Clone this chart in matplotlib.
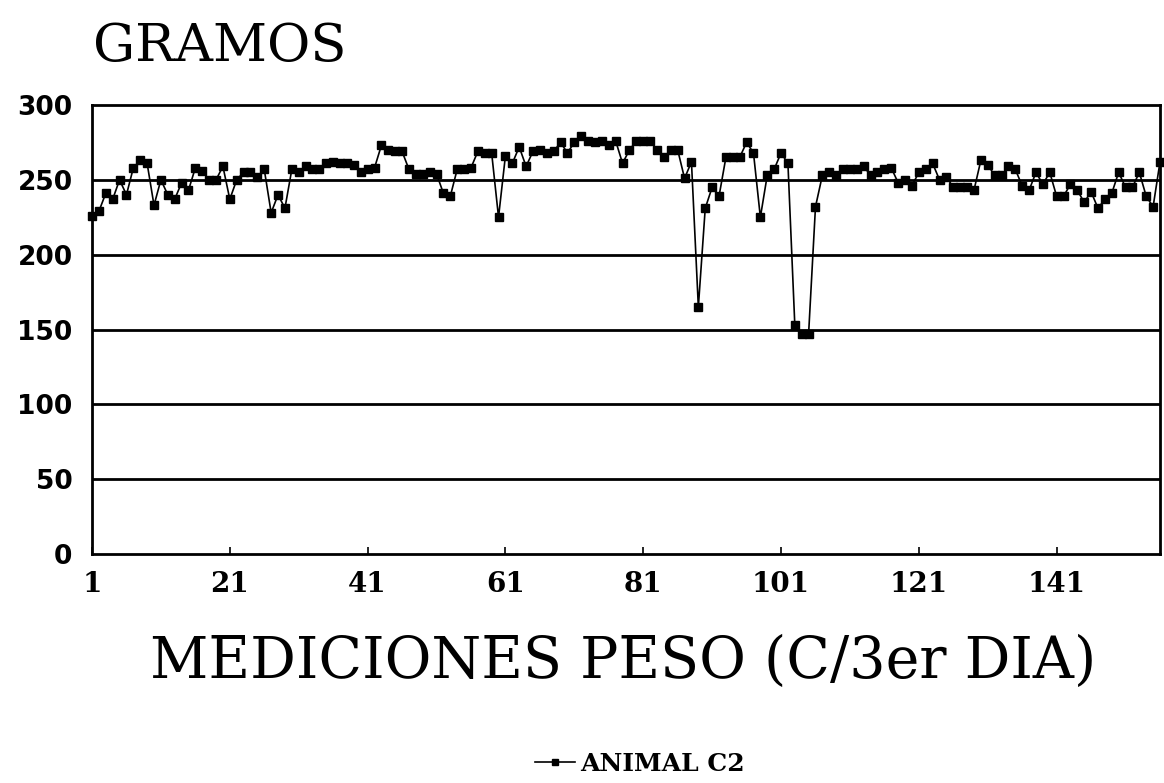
import matplotlib
matplotlib.use("Agg")
import matplotlib.pyplot as plt
import numpy as np

medicion = list(range(1, 157))
peso = [226, 229, 241, 237, 250, 240, 258, 263, 261, 233,
        250, 240, 237, 248, 243, 258, 256, 250, 250, 259,
        237, 250, 255, 255, 252, 257, 228, 240, 231, 257,
        255, 259, 257, 257, 261, 262, 261, 261, 260, 255,
        257, 258, 273, 270, 269, 269, 257, 254, 254, 255,
        254, 241, 239, 257, 257, 258, 269, 268, 268, 225,
        266, 261, 272, 259, 269, 270, 268, 269, 275, 268,
        275, 279, 276, 275, 276, 273, 276, 261, 270, 276,
        276, 276, 270, 265, 270, 270, 251, 262, 165, 231,
        245, 239, 265, 265, 265, 275, 268, 225, 253, 257,
        268, 261, 153, 147, 147, 232, 253, 255, 253, 257,
        257, 257, 259, 253, 255, 257, 258, 248, 250, 246,
        255, 257, 261, 250, 252, 245, 245, 245, 243, 263,
        260, 253, 253, 259, 257, 246, 243, 255, 247, 255,
        239, 239, 247, 243, 235, 242, 231, 237, 241, 255,
        245, 245, 255, 239, 232, 262]
xticks = [1, 21, 41, 61, 81, 101, 121, 141]
yticks = [0, 50, 100, 150, 200, 250, 300]
serie = "ANIMAL C2"

W, H = 1164, 783
fig = plt.figure(figsize=(W / 100, H / 100), dpi=100)
L, R, T, B = 92, 1160, 105, 554
ax = fig.add_axes([L / W, 1 - B / H, (R - L) / W, (B - T) / H])

line, = ax.plot(medicion, peso, color="black", lw=1.2, marker="s", ms=6,
                mfc="black", mec="black", clip_on=False, zorder=3)
ax.set_xlim(1, 156)
ax.set_ylim(0, 300)
for v in yticks[1:-1]:
    ax.axhline(v, color="black", lw=2, zorder=1)
for s in ax.spines.values():
    s.set_linewidth(2)
ax.set_yticks(yticks)
ax.set_yticklabels([str(v) for v in yticks], fontfamily="DejaVu Sans",
                   fontweight="bold", fontsize=19)
ax.set_xticks(xticks)
ax.set_xticklabels([str(v) for v in xticks], fontfamily="DejaVu Serif",
                   fontweight="bold", fontsize=20)
ax.tick_params(axis="y", length=0, pad=14)
ax.tick_params(axis="x", direction="in", length=5, width=1.2, pad=12)

fig.text(93 / W, 1 - 47 / H, "GRAMOS", fontfamily="DejaVu Serif", fontsize=38,
         va="center", ha="left")
fig.text(623 / W, 1 - 662 / H, "MEDICIONES PESO (C/3er DIA)",
         fontfamily="DejaVu Serif", fontsize=41, va="center", ha="center")

leg = fig.legend([line], [serie], loc="center", bbox_to_anchor=(640 / W, 1 - 764 / H),
                 frameon=False, handlelength=1.6, handletextpad=0.2,
                 prop={"family": "DejaVu Serif", "weight": "bold", "size": 18})
leg.legend_handles[0].set_markersize(4)

fig.savefig("out.png", dpi=100)
